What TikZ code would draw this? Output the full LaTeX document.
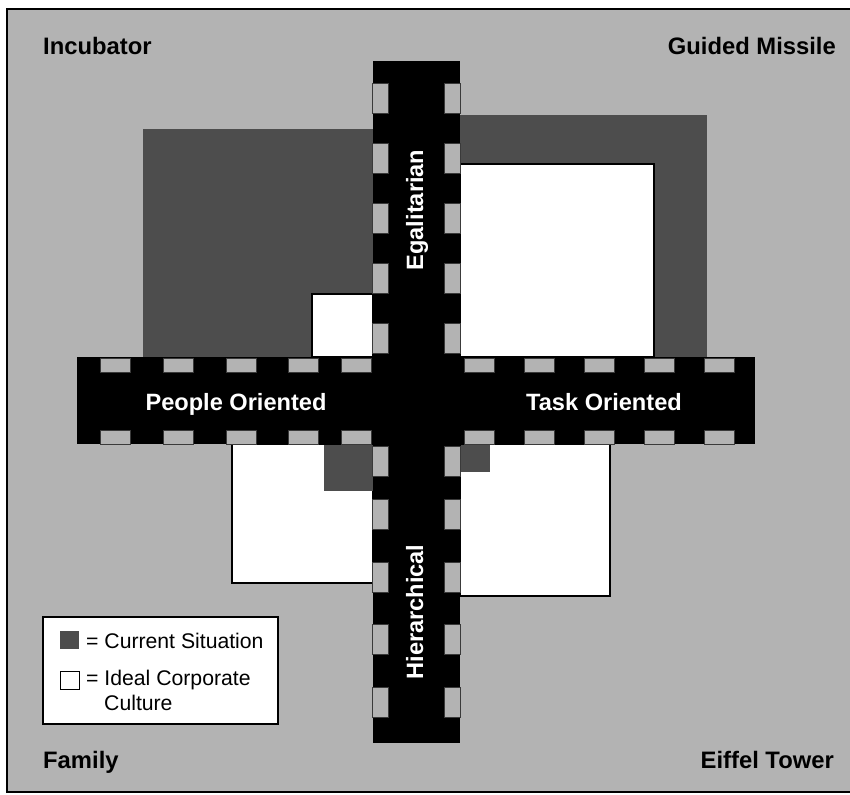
\documentclass[tikz,border=0pt]{standalone}
\usepackage{fontspec}
\setmainfont{Liberation Sans}
\begin{document}
\begin{tikzpicture}[x=1pt,y=-1pt,
  bg/.style={fill=bggray},
  current/.style={fill=darkgray4},
  ideal/.style={fill=white,draw=black,line width=1.6pt},
  bar/.style={fill=black},
  tick/.style={fill=bggray,draw=tickline,line width=0.8pt},
  corner/.style={font=\fontsize{23.8}{28}\selectfont\bfseries,inner sep=0pt},
  axis/.style={font=\fontsize{23.6}{28}\selectfont\bfseries,text=white,inner sep=0pt},
  legendtext/.style={font=\fontsize{21.2}{25}\selectfont,inner sep=0pt,anchor=base west}]
\definecolor{bggray}{HTML}{B3B3B3}
\definecolor{darkgray4}{HTML}{4D4D4D}
\definecolor{tickline}{HTML}{3A3A3A}
\useasboundingbox (0,0) rectangle (850,794);
\clip (0,0) rectangle (850,794);
\fill[white] (0,0) rectangle (850,794);
% frame and background
\draw[bg,draw=black,line width=2pt] (7,9) rectangle (870,792);
% current situation areas
\fill[current] (143,129) rectangle (373,357);
\fill[current] (460,115) rectangle (707,357);
% ideal culture areas
\draw[ideal] (460,164) rectangle (654,357);
\draw[ideal] (312,294) rectangle (373,357);
\draw[ideal] (232,444) rectangle (373,583);
\draw[ideal] (460,444) rectangle (610,596);
\fill[current] (324,445) rectangle (373,491);
\fill[current] (461,445) rectangle (490,472);
% the two axes
\fill[bar] (373,61) rectangle (460,743);
\fill[bar] (77,357) rectangle (755,444);
% ticks on the vertical axis
\foreach \y in {83,143,203,263,323,446,499,562,624,687}{
  \draw[tick] (372,\y) rectangle (388,\y+30);
  \draw[tick] (444,\y) rectangle (460,\y+30);
}
% ticks on the horizontal axis
\foreach \x in {100,163,226,288,341,464,524,584,644,704}{
  \draw[tick] (\x,358) rectangle (\x+30,372);
  \draw[tick] (\x,430) rectangle (\x+30,444);
}
% axis labels
\node[axis,anchor=base] (people) at (236,410) {People Oriented};
\node[axis,anchor=base] (task) at (604,410) {Task Oriented};
\node[axis,anchor=base,rotate=90] (egal) at (423,210) {Egalitarian};
\node[axis,anchor=base,rotate=90] (hier) at (423,612) {Hierarchical};
% quadrant names
\node[corner,anchor=base west] (incubator) at (43,55) {Incubator};
\node[corner,anchor=base east] (missile) at (836,55) {Guided Missile};
\node[corner,anchor=base west] (family) at (43,768) {Family};
\node[corner,anchor=base east] (eiffel) at (834,768) {Eiffel Tower};
% legend
\draw[fill=white,draw=black,line width=2pt] (43,617) rectangle (278,724);
\fill[current] (60,631) rectangle (79,649);
\draw[fill=white,draw=black,line width=1pt] (60,671) rectangle (79,689);
\node[legendtext] (lcur) at (86,648) {= Current Situation};
\node[legendtext] (lideal) at (86,685) {= Ideal Corporate};
\node[legendtext] (lcult) at (104,710) {Culture};
\end{tikzpicture}
\end{document}
